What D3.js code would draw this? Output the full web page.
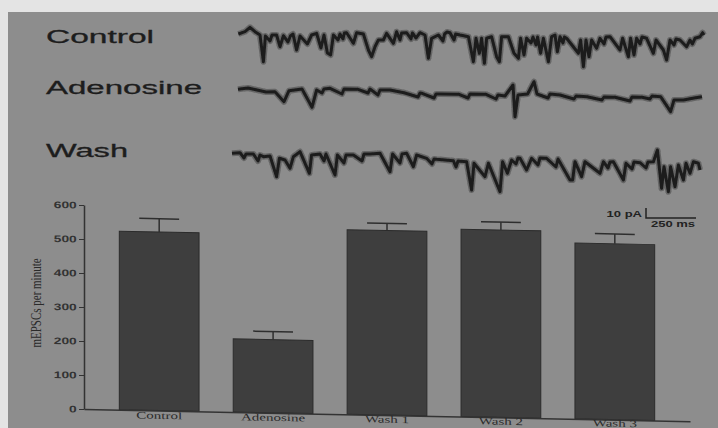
<!DOCTYPE html>
<html>
<head>
<meta charset="utf-8">
<script src="https://cdn.jsdelivr.net/npm/d3@7"></script>
<style>
  body { margin: 0; background: #e4e4e4; }
  svg { display: block; }
</style>
</head>
<body>
<div id="chart-root"></div>
<script>
// mEPSC frequency, mean and SEM per condition
var conditions = ["Control", "Adenosine", "Wash 1", "Wash 2", "Wash 3"];
var rates = [525, 215, 543, 551, 517];
var rateErrors = [39, 24, 21, 23, 29];
var yTicks = [0, 100, 200, 300, 400, 500, 600];

// example current traces, [time ms, current pA]
var traceNames = ["Control", "Adenosine", "Wash"];
var controlTrace = [
  [2,1],[35,3.3],[60,7.7],[85,3.3],[110,0],[127,-26.7],[137,-1],[160,-6],[170,0],[193,0],[210,-11.7],
  [227,-0.7],[250,-7],[262,-1],[275,1],[293,-15],[310,-1],[347,-9],[368,0],[393,1.7],[415,-13],[430,0],
  [447,-18],[463,-20],[477,0],[500,-5],[510,1],[525,-4],[532,2],[543,2.3],[577,-8.3],[593,2.3],[627,1],
  [652,-15],[668,-21.7],[685,-11.7],[702,-5],[727,-5],[743,1.7],[777,-8.3],[793,3.3],[810,-5],[818,2],
  [843,2.3],[865,-4],[872,2],[890,-3],[910,2.3],[935,0],[952,-23.3],[968,-3.3],[1002,0],[1025,-6],
  [1033,1],[1045,3],[1060,2.3],[1080,-5],[1088,1],[1110,0],[1152,-1.7],[1177,-26.7],[1190,-3.3],
  [1207,-18.3],[1218,-3.3],[1232,-28.3],[1243,-3.3],[1268,-1.7],[1293,-21.7],[1307,-26.7],[1318,-1.7],
  [1352,-1.7],[1380,-18.3],[1402,-23.3],[1413,-3.3],[1430,-20],[1443,-3.3],[1465,-8],[1475,-2],
  [1490,-10],[1498,-2],[1513,-18.3],[1527,-3.3],[1552,-26.7],[1568,-1.7],[1585,0],[1597,-16.7],
  [1610,-1.7],[1625,-8],[1632,-2],[1643,-3.3],[1702,-18.3],[1713,-5],[1727,-31.7],[1740,-5],[1755,-21.7],
  [1768,-5],[1793,-13.3],[1810,-3.3],[1830,-9],[1840,-2],[1860,-1.7],[1910,-15],[1923,-3.3],[1952,-21.7],
  [1963,-3.3],[1980,-20],[1993,-3.3],[2010,-9],[2020,-2],[2043,-3.3],[2077,-18.3],[2090,-5],[2127,-15],
  [2143,-25],[2160,-5],[2180,-10],[2190,-4],[2210,-5],[2243,-11.7],[2260,-5],[2272,-9],[2285,-3.3],
  [2310,-1.7],[2323,2.3],[2330,0]
];
var adenosineTrace = [
  [0,0.7],[50,2],[95,0],[140,-2],[185,-1.7],[230,-11.7],[255,-0.7],[320,1],[370,-17.3],[393,0],[420,-3],
  [430,1],[460,1.7],[520,-4],[530,1],[600,0.7],[650,-3],[660,1],[700,-5],[710,0],[760,0],[830,-2.7],
  [900,-7],[910,-3],[920,-3.3],[980,-8],[990,-4],[1010,-4],[1105,-4.3],[1150,-8],[1160,-4],[1240,-4.3],
  [1290,-9],[1300,-5],[1335,-6],[1375,5],[1385,-26.7],[1400,-5],[1448,-4],[1480,8.3],[1495,-4],
  [1550,-8],[1560,-4],[1610,-5],[1680,-9],[1690,-6],[1745,-6.7],[1820,-10],[1830,-7],[1885,-7.3],
  [1960,-11],[1970,-7],[2020,-7.3],[2060,-9],[2070,-6],[2113,-6.7],[2163,-21.7],[2180,-10],[2228,-10],
  [2273,-8.3],[2320,-6.7]
];
var washTrace = [
  [0,1.7],[40,2.3],[60,-3],[70,1],[107,1],[130,-6],[140,0],[157,-1.7],[190,-1],[223,-21.7],[237,-3.3],
  [265,-5],[290,-13.3],[307,-1.7],[340,3.3],[387,-18.3],[398,0],[440,1],[460,-6],[470,1],[515,-20],
  [527,0],[560,-8],[570,0],[607,0],[650,-6],[660,1],[690,1],[740,1.7],[790,-16.7],[803,1],[840,-8],
  [850,1],[873,1.7],[907,-11.7],[923,0],[973,-3.3],[1000,-9],[1010,-4],[1023,-4.3],[1107,-5.7],
  [1120,-12],[1130,-6],[1173,-6.7],[1198,-35],[1210,-8.3],[1265,-21.7],[1282,-8.3],[1340,-36.7],
  [1353,-6.7],[1377,-18.3],[1398,-5],[1420,-9],[1430,-3],[1440,-3.3],[1473,-15],[1498,-3.3],[1530,-10],
  [1540,-3],[1573,-3.3],[1620,-12],[1630,-4],[1690,-25],[1703,-25],[1715,-6.7],[1748,-21.7],[1765,-6.7],
  [1840,-18.3],[1857,-6.7],[1880,-13],[1890,-7],[1907,-6.7],[1957,-25],[1970,-8.3],[2000,-14],[2010,-7],
  [2040,-7.7],[2070,-13],[2080,-7],[2107,-6.7],[2127,5],[2148,-33.3],[2160,-11.7],[2182,-36.7],
  [2193,-11.7],[2215,-31.7],[2232,-10],[2257,-25],[2270,-8.3],[2290,-18.3],[2307,-6.7],[2332,-8.3],
  [2340,-15]
];
var scaleBarPA = 10, scaleBarMs = 250;

var width = 718, height = 428;
var ink = "#1d1d1d";
var skew = 0.02;   // tan of the photo's shear

var svg = d3.select("#chart-root")
  .append("svg")
    .attr("width", width)
    .attr("height", height);

// soft focus, like the photographed figure
svg.append("defs").append("filter")
    .attr("id", "soft")
  .append("feGaussianBlur")
    .attr("stdDeviation", 0.6);

// grey photographed panel
svg.append("rect")
    .attr("x", 8).attr("y", 12)
    .attr("width", width - 8).attr("height", height - 12)
    .attr("fill", "#8d8d8d");

// ---- traces ----
var traces = [controlTrace, adenosineTrace, washTrace];
var traceX0 = [238, 238, 232],        // px where time 0 sits
    traceY0 = [35, 90, 155],          // px of 0 pA
    labelY = [43, 94, 157],
    labelW = [108, 156, 82];

var msPerPx = 5, pAPerPx = 1;
var traceLayer = svg.append("g").attr("filter", "url(#soft)");

traces.forEach(function (data, i) {
  var tx = d3.scaleLinear().domain([0, 2400]).range([traceX0[i], traceX0[i] + 2400 / msPerPx]);
  var ty = d3.scaleLinear().domain([-40, 10]).range([traceY0[i] + 40 / pAPerPx, traceY0[i] - 10 / pAPerPx]);
  var line = d3.line().x(function (d) { return tx(d[0]); }).y(function (d) { return ty(d[1]); });

  traceLayer.append("path").datum(data)
      .attr("fill", "none").attr("stroke", ink).attr("stroke-opacity", 0.35)
      .attr("stroke-width", 6).attr("stroke-linejoin", "round").attr("d", line);
  traceLayer.append("path").datum(data)
      .attr("fill", "none").attr("stroke", ink)
      .attr("stroke-width", 3).attr("stroke-linejoin", "round").attr("d", line);

  svg.append("text")
      .attr("x", 46).attr("y", labelY[i])
      .attr("font-family", "Liberation Sans, Arial, sans-serif")
      .attr("font-size", 18)
      .attr("textLength", labelW[i])
      .attr("lengthAdjust", "spacingAndGlyphs")
      .attr("fill", ink)
      .attr("stroke", ink).attr("stroke-width", 0.3)
      .text(traceNames[i]);
});

// scale bar
(function () {
  var sx = d3.scaleLinear().domain([0, scaleBarMs]).range([646, 646 + scaleBarMs / msPerPx]);
  var sy = d3.scaleLinear().domain([0, scaleBarPA]).range([218, 218 - scaleBarPA / pAPerPx]);
  svg.append("path")
      .attr("fill", "none").attr("stroke", "#222").attr("stroke-width", 1.5)
      .attr("d", "M" + sx(0) + "," + sy(scaleBarPA) + "V" + sy(0) + "H" + sx(scaleBarMs));
  svg.append("text")
      .attr("transform", "translate(" + (sx(0) - 4) + "," + (sy(scaleBarPA / 2) + 3.5) + ") scale(1.45,1)")
      .attr("text-anchor", "end")
      .attr("font-family", "Liberation Sans, Arial, sans-serif")
      .attr("font-weight", "bold").attr("font-size", 9).attr("fill", "#222")
      .text(scaleBarPA + " pA");
  svg.append("text")
      .attr("transform", "translate(" + ((sx(0) + sx(scaleBarMs)) / 2 + 2) + "," + (sy(0) + 9) + ") scale(1.45,1)")
      .attr("text-anchor", "middle")
      .attr("font-family", "Liberation Sans, Arial, sans-serif")
      .attr("font-weight", "bold").attr("font-size", 9).attr("fill", "#222")
      .text(scaleBarMs + " ms");
})();

// ---- bar chart (photo is slightly skewed) ----
var g = svg.append("g")
    .attr("transform", "translate(84,0) skewY(" + (Math.atan(skew) * 180 / Math.PI) + ") translate(-84,0)");

var y = d3.scaleLinear().domain([0, 600]).range([409, 205]);
var x = d3.scaleBand().domain(conditions).range([84, 690])
    .paddingInner(0.3).paddingOuter(0.31);

g.selectAll(".bar")
  .data(conditions)
  .enter().append("rect")
    .attr("class", "bar")
    .attr("x", function (d) { return x(d); })
    .attr("y", function (d, i) { return y(rates[i]); })
    .attr("width", x.bandwidth())
    .attr("height", function (d, i) { return y(0) - y(rates[i]); })
    .attr("fill", "#3e3e3e")
    .attr("stroke", "#2b2b2b")
    .attr("stroke-width", 1);

// error bars (upper only)
var err = g.selectAll(".err")
  .data(conditions)
  .enter().append("g")
    .attr("class", "err")
    .attr("stroke", "#2e2e2e")
    .attr("stroke-width", 1.5);
err.append("line")
    .attr("x1", function (d) { return x(d) + x.bandwidth() / 2; })
    .attr("x2", function (d) { return x(d) + x.bandwidth() / 2; })
    .attr("y1", function (d, i) { return y(rates[i]); })
    .attr("y2", function (d, i) { return y(rates[i] + rateErrors[i]); });
err.append("line")
    .attr("x1", function (d) { return x(d) + x.bandwidth() * 0.25; })
    .attr("x2", function (d) { return x(d) + x.bandwidth() * 0.75; })
    .attr("y1", function (d, i) { return y(rates[i] + rateErrors[i]); })
    .attr("y2", function (d, i) { return y(rates[i] + rateErrors[i]); });

// y axis
var yAxis = g.append("g")
    .attr("transform", "translate(84,0)")
    .call(d3.axisLeft(y).tickValues(yTicks).tickSize(5).tickSizeOuter(0));
yAxis.select(".domain").attr("stroke", "#333").attr("stroke-width", 1.5);
yAxis.selectAll(".tick line").attr("stroke", "#333").attr("stroke-width", 1);
yAxis.selectAll("text")
    .attr("x", -5)
    .attr("transform", "scale(1.45,1)")
    .attr("font-family", "Liberation Sans, Arial, sans-serif")
    .attr("font-weight", "bold")
    .attr("font-size", 9.5)
    .attr("fill", "#333");

// x axis; labels lifted back a little of the shear so they stay inside the frame
var xAxis = g.append("g")
    .attr("transform", "translate(0," + y(0) + ")")
    .call(d3.axisBottom(x).tickSize(0).tickPadding(1.5));
xAxis.select(".domain").attr("stroke", "#333").attr("stroke-width", 1.5);
xAxis.selectAll("text")
    .attr("transform", function (d) {
      var lift = -0.15 * skew * (x(d) + x.bandwidth() / 2 - 84);
      return "translate(0," + lift + ") scale(1.5,1)";
    })
    .attr("font-family", "Liberation Serif, Times New Roman, serif")
    .attr("font-size", 10)
    .attr("fill", "#2a2a2a");

// y axis title
svg.append("text")
    .attr("transform", "translate(41,303) scale(1.3,1) rotate(-90)")
    .attr("text-anchor", "middle")
    .attr("font-family", "Liberation Serif, Times New Roman, serif")
    .attr("font-size", 11)
    .attr("fill", "#2a2a2a")
    .text("mEPSCs per minute");
</script>
</body>
</html>
